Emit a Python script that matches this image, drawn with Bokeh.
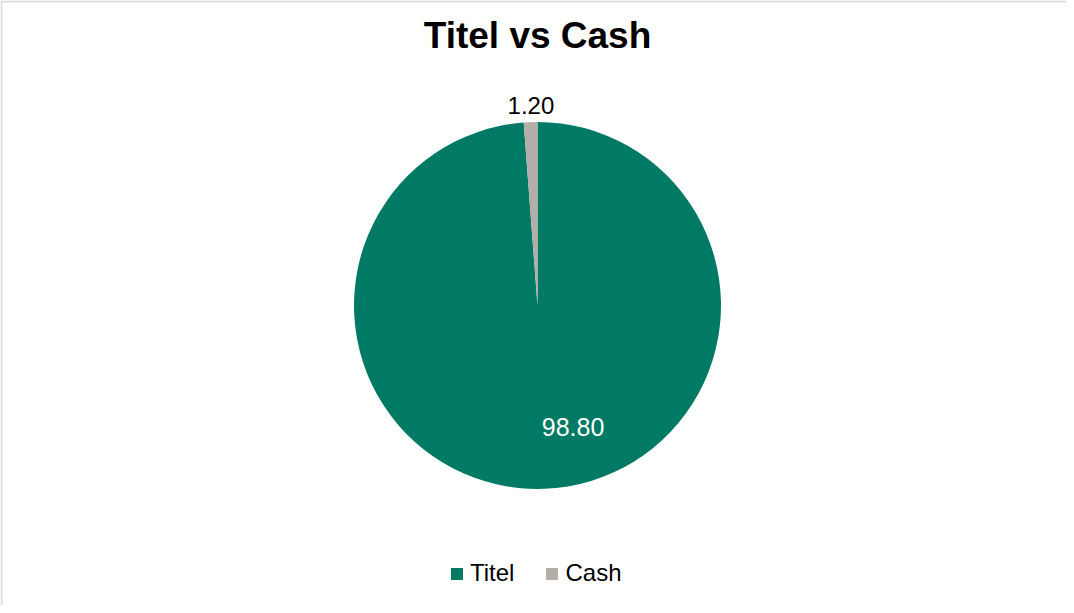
import math
from bokeh.plotting import figure
from bokeh.models import Range1d, Legend, LegendItem, BoxAnnotation
from bokeh.core.properties import value
from bokeh.embed import file_html
from bokeh.resources import INLINE

# ---- data ----
categories = ["Titel", "Cash"]
values = [98.80, 1.20]
colors = ["#007A64", "#B4ADA8"]
label_text = ["98.80", "1.20"]
label_colors = ["white", "black"]
title_text = "Titel vs Cash"

W, H = 1066, 605
CX, CY = 537, 305          # pie centre on the canvas (from top-left)
R = 183.5

p = figure(width=W, height=H, output_backend="svg", toolbar_location=None,
           x_range=Range1d(-CX, W - CX), y_range=Range1d(-(H - CY), CY),
           min_border=0, outline_line_color=None)
p.axis.visible = False
p.grid.visible = False
p.background_fill_color = "white"
p.border_fill_color = "white"

# chart-area border: left/top visible, right/bottom beyond the window
p.add_layout(BoxAnnotation(left=-CX + 1, right=W - CX + 50,
                           top=CY - 1, bottom=-(H - CY) - 50,
                           fill_alpha=0, line_color="#8c8c8c", line_width=2))

total = sum(values)
starts, ends, mids = [], [], []
acc = 0.0
for v in values:
    a0 = math.pi / 2 - 2 * math.pi * acc / total
    acc += v
    a1 = math.pi / 2 - 2 * math.pi * acc / total
    starts.append(a0)
    ends.append(a1)
    mids.append((a0 + a1) / 2)

renderers = []
for i in range(len(categories)):
    r = p.wedge(x=0, y=0, radius=R, start_angle=starts[i], end_angle=ends[i],
                direction="clock", fill_color=colors[i], line_color=None)
    renderers.append(r)

# data labels: inside for the big slice, outside for the small one
label_r = [R * 0.66, R + 17]
label_dx = [31, 1]
label_sizes = ["25px", "24px"]
lx = [label_r[i] * math.cos(mids[i]) + label_dx[i] for i in range(len(values))]
ly = [label_r[i] * math.sin(mids[i]) for i in range(len(values))]
for i in range(len(values)):
    p.text(x=[lx[i]], y=[ly[i]], text=[label_text[i]], text_color=label_colors[i],
           text_font=value("Liberation Sans"), text_font_size=label_sizes[i],
           text_align="center", text_baseline="middle")

# title
p.text(x=[0], y=[CY - 35], text=[title_text], text_font=value("Liberation Sans"),
       text_font_size="37px", text_font_style="bold", text_color="black",
       text_align="center", text_baseline="middle")

legend = Legend(items=[LegendItem(label=categories[i], renderers=[renderers[i]])
                       for i in range(len(categories))],
                orientation="horizontal", location=(449, 18),
                glyph_width=15, glyph_height=15, label_standoff=6, spacing=30,
                padding=0, margin=0, border_line_color=None,
                background_fill_alpha=0,
                label_text_font="Liberation Sans", label_text_font_size="24px",
                label_text_color="black")
p.add_layout(legend, "center")

open("out.html", "w").write(file_html(p, INLINE))
